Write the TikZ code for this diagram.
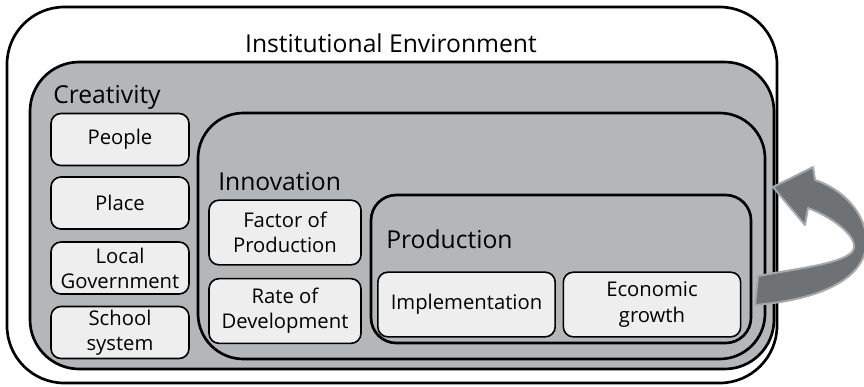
\documentclass[tikz,border=0pt]{standalone}
\usepackage{fontspec}
\setmainfont{Open Sans}

\definecolor{zoneGray}{HTML}{B5B6B8}
\definecolor{itemGray}{HTML}{EEEEEE}
\definecolor{arrowGray}{HTML}{6E7274}
\definecolor{arrowEdge}{HTML}{A5A8AA}

\newcommand{\zoneFont}{\fontsize{18.5}{22}\selectfont}
\newcommand{\itemFont}{\fontsize{15.2}{18.8}\selectfont}

\newcommand{\zoneBox}[6]
{
    \draw [frame, fill=#6, rounded corners=#5] (#1,#2) rectangle (#3,#4);
}

\tikzset{
    frame/.style={draw=black, line width=2pt},
    zonelabel/.style={font=\zoneFont, anchor=base west, inner sep=0pt},
    itembox/.style={draw=black, line width=1.2pt, rounded corners=7.5pt,
        fill=itemGray, align=center, font=\itemFont, inner sep=0pt},
    creabox/.style={itembox, minimum width=103.5pt, minimum height=39pt},
    innobox/.style={itembox, minimum width=114pt, minimum height=48.5pt},
    prodbox/.style={itembox, minimum width=133pt, minimum height=48.5pt}
}

\begin{document}
\begin{tikzpicture}[x=0.75pt,y=-0.75pt]

    \useasboundingbox (0,0) rectangle (864,386);

    %draws nested environments
    \zoneBox{7}{7}{777}{383}{43pt}{white};
    \zoneBox{30}{62}{774}{369}{37pt}{zoneGray};
    \zoneBox{198}{113}{765}{359}{34pt}{zoneGray};
    \zoneBox{371}{195}{751}{343}{19pt}{zoneGray};

    %draws headings
    \node[font=\zoneFont, anchor=base, inner sep=0pt] (inst) at (391,52)
        {Institutional Environment};
    \node[zonelabel] (crea) at (53,103) {Creativity};
    \node[zonelabel] (inno) at (218,190) {Innovation};
    \node[zonelabel] (prod) at (386,248) {Production};

    %draws creativity column
    \node[creabox] (people) at (120,139.5) {People};
    \node[creabox] (place)  at (120,203) {Place};
    \node[creabox] (locgov) at (120,268) {Local\\Government};
    \node[creabox] (school) at (120,332.5) {School\\system};

    %draws innovation column
    \node[innobox] (factor) at (285,232.5) {Factor of\\Production};
    \node[innobox] (rate)   at (285,311) {Rate of\\Development};

    %draws production row
    \node[prodbox] (impl) at (466.5,304.5) {Implementation};
    \node[prodbox] (econ) at (652,304.5) {Economic\\growth};

    %draws feedback arrow
    \draw[fill=arrowGray, draw=arrowEdge, line width=1.5pt, line join=round]
        (758,276) .. controls (800,268) and (840,264) .. (852,252)
        .. controls (862,240) and (835,218) .. (808,208)
        -- (805,225) -- (773,187) -- (813,167) -- (815,180)
        .. controls (850,192) and (870,222) .. (866,248)
        .. controls (860,282) and (815,300) .. (755,305)
        -- cycle;

\end{tikzpicture}
\end{document}
